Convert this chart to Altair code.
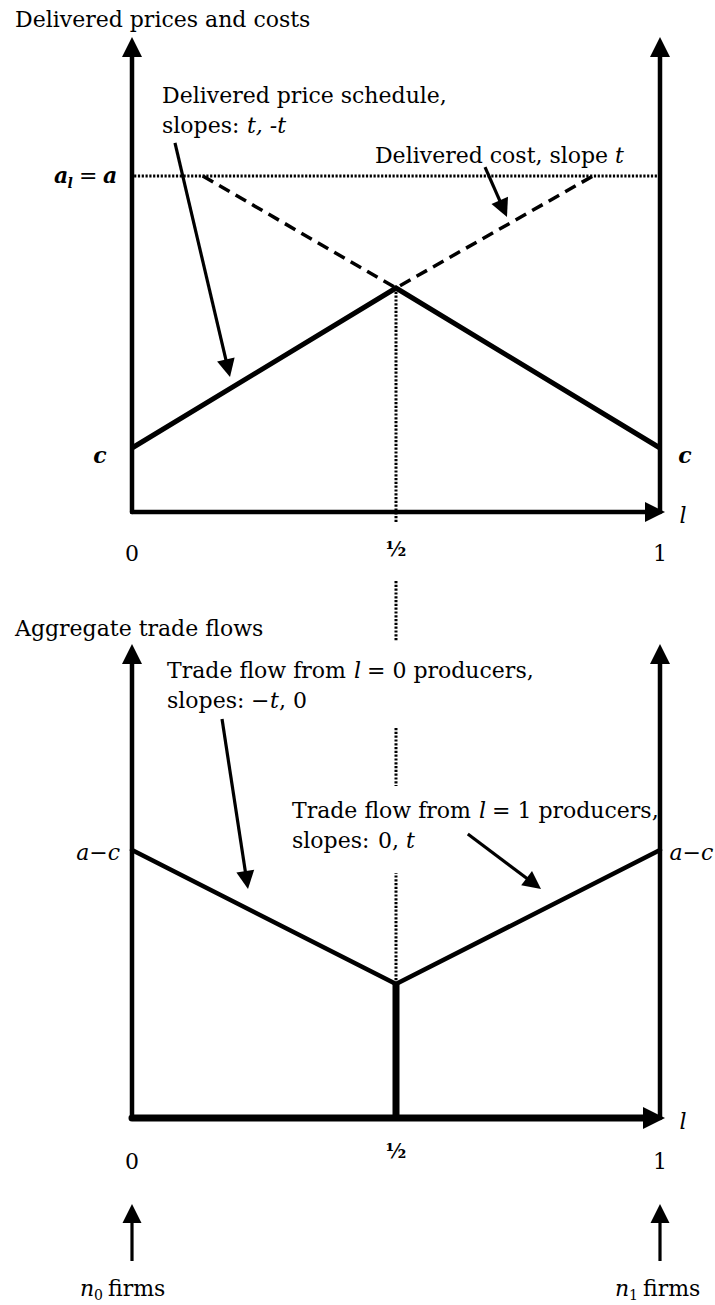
import math
import altair as alt
import pandas as pd

FONT = "DejaVu Serif"
W = 715
TOP_H = 565
BOT_H = 740

# location on the line segment [0, 1]; both panels share this axis
L_DOM = [-0.25, 1.104167]
# value axes of the two panels
TOP_DOM = [-0.828125, 8.0]
BOT_DOM = [-2.80597, 8.23881]
PANELS = {"top": (TOP_DOM, TOP_H), "bottom": (BOT_DOM, BOT_H)}

# ---------------- upper panel: delivered prices and costs ----------------
price_l = [0.0, 0.5, 1.0]          # delivered price schedule
price_v = [1.0, 3.5, 1.0]
cost_l = [0.134, 0.5, 0.873]       # delivered cost (dashed)
cost_v = [5.25, 3.5, 5.25]
a_level = 5.25                     # a_l = a
top_axis_tip = 7.42
l_axis_tip = 1.0095

# ---------------- lower panel: aggregate trade flows ----------------
flow0_l = [0.0, 0.5]               # flow from l = 0 producers
flow0_v = [4.0, 2.0]
flow1_l = [0.5, 1.0]               # flow from l = 1 producers
flow1_v = [2.0, 4.0]
bot_axis_tip = 7.075
firms_arrow_v = [-2.134, -1.284]

HEAD_PATH = "M0,0L-0.5,1L0.5,1Z"   # arrowhead with its tip at the anchor point


def to_px(l, v, panel):
    dom, h = PANELS[panel]
    x = (l - L_DOM[0]) / (L_DOM[1] - L_DOM[0]) * W
    y = (dom[1] - v) / (dom[1] - dom[0]) * h
    return x, y


def from_px(x, y, panel):
    dom, h = PANELS[panel]
    l = L_DOM[0] + x / W * (L_DOM[1] - L_DOM[0])
    v = dom[1] - y / h * (dom[1] - dom[0])
    return l, v


def arrow(l0, v0, l1, v1, panel, kind, head=20):
    """Shaft from (l0, v0) and a filled head whose tip sits at (l1, v1)."""
    x0, y0 = to_px(l0, v0, panel)
    x1, y1 = to_px(l1, v1, panel)
    dx, dy = x1 - x0, y1 - y0
    d = math.hypot(dx, dy)
    xs, ys = x1 - dx / d * head * 0.6, y1 - dy / d * head * 0.6
    ls, vs = from_px(xs, ys, panel)
    ang = math.degrees(math.atan2(dx, -dy)) % 360
    seg = dict(l=l0, v=v0, l2=ls, v2=vs, kind=kind)
    tip = dict(l=l1, v=v1, angle=ang, size=4 * head * head)
    return seg, tip


SEG_STYLE = {
    "axis": dict(strokeWidth=4.5, strokeCap="round"),
    "axis_thick": dict(strokeWidth=7, strokeCap="round"),
    "jump": dict(strokeWidth=7, strokeCap="butt"),
    "dotted": dict(strokeWidth=3, strokeDash=[2.2, 1.6], strokeCap="butt"),
    "shaft": dict(strokeWidth=3.2, strokeCap="butt"),
}

# ---- segments and arrows ----
top_segs, top_heads = [], []
for s, h in [
    arrow(0, 0, 0, top_axis_tip, "top", "axis"),
    arrow(1, 0, 1, top_axis_tip, "top", "axis"),
    arrow(0, 0, l_axis_tip, 0, "top", "axis"),
    arrow(0.0814, 5.766, 0.1856, 2.109, "top", "shaft", head=18),
    arrow(0.6686, 5.39, 0.7102, 4.61, "top", "shaft", head=18),
]:
    top_segs.append(s)
    top_heads.append(h)
top_segs.append(dict(l=0.004, v=a_level, l2=1.0, v2=a_level, kind="dotted"))
top_segs.append(dict(l=0.5, v=price_v[1], l2=0.5, v2=-0.17, kind="dotted"))

bot_segs, bot_heads = [], []
for s, h in [
    arrow(0, 0, 0, bot_axis_tip, "bottom", "axis"),
    arrow(1, 0, 1, bot_axis_tip, "bottom", "axis"),
    arrow(0, 0, l_axis_tip, 0, "bottom", "axis_thick", head=22),
    arrow(0.1705, 5.955, 0.2197, 3.418, "bottom", "shaft", head=18),
    arrow(0.636, 4.239, 0.7746, 3.418, "bottom", "shaft", head=18),
    arrow(0, firms_arrow_v[0], 0, firms_arrow_v[1], "bottom", "shaft", head=19),
    arrow(1, firms_arrow_v[0], 1, firms_arrow_v[1], "bottom", "shaft", head=19),
]:
    bot_segs.append(s)
    bot_heads.append(h)
bot_segs += [
    dict(l=0.5, v=0.0, l2=0.5, v2=flow0_v[1], kind="jump"),
    dict(l=0.5, v=flow0_v[1], l2=0.5, v2=3.657, kind="dotted"),
    dict(l=0.5, v=5.821, l2=0.5, v2=4.955, kind="dotted"),
    dict(l=0.5, v=8.015, l2=0.5, v2=7.119, kind="dotted"),
]

# ---- text: (text, l, v, align, style, weight, size) ----
top_labels = [
    ("Delivered prices and costs", -0.2216, 7.578, "left", "normal", "normal", 22),
    ("Delivered price schedule,", 0.0568, 6.391, "left", "normal", "normal", 22),
    ("slopes:", 0.0568, 5.922, "left", "normal", "normal", 22),
    ("t, -t", 0.2178, 5.922, "left", "italic", "normal", 22),
    ("Delivered cost, slope", 0.4602, 5.453, "left", "normal", "normal", 22),
    ("t", 0.9148, 5.453, "left", "italic", "normal", 22),
    ("a", -0.1477, 5.141, "left", "italic", "bold", 22),
    ("l", -0.1222, 5.0625, "left", "italic", "bold", 14),
    ("=", -0.1004, 5.141, "left", "normal", "normal", 22),
    ("a", -0.0549, 5.141, "left", "italic", "bold", 22),
    ("c", -0.0606, 0.766, "center", "italic", "bold", 22),
    ("c", 1.0473, 0.766, "center", "italic", "bold", 22),
    ("l", 1.0436, -0.172, "center", "italic", "normal", 22),
    ("0", 0.0, -0.766, "center", "normal", "normal", 22),
    ("½", 0.5, -0.6875, "center", "normal", "bold", 20),
    ("1", 1.0, -0.766, "center", "normal", "normal", 22),
]
bot_labels = [
    ("Aggregate trade flows", -0.2216, 7.194, "left", "normal", "normal", 22),
    ("Trade flow from", 0.0663, 6.567, "left", "normal", "normal", 22),
    ("l", 0.4205, 6.567, "left", "italic", "normal", 22),
    ("= 0 producers,", 0.4451, 6.567, "left", "normal", "normal", 22),
    ("slopes:", 0.0663, 6.119, "left", "normal", "normal", 22),
    ("\u2212", 0.2254, 6.119, "left", "normal", "normal", 22),
    ("t", 0.2614, 6.119, "left", "italic", "normal", 22),
    (", 0", 0.2784, 6.119, "left", "normal", "normal", 22),
    ("Trade flow from", 0.3030, 4.478, "left", "normal", "normal", 22),
    ("l", 0.6572, 4.478, "left", "italic", "normal", 22),
    ("= 1 producers,", 0.6818, 4.478, "left", "normal", "normal", 22),
    ("slopes:", 0.3030, 4.030, "left", "normal", "normal", 22),
    ("0,", 0.4659, 4.030, "left", "normal", "normal", 22),
    ("t", 0.5189, 4.030, "left", "italic", "normal", 22),
    ("a\u2212c", -0.0227, 3.851, "right", "italic", "normal", 22),
    ("a\u2212c", 1.018, 3.851, "left", "italic", "normal", 22),
    ("l", 1.0436, -0.164, "center", "italic", "normal", 22),
    ("0", 0.0, -0.761, "center", "normal", "normal", 22),
    ("½", 0.5, -0.597, "center", "normal", "bold", 20),
    ("1", 1.0, -0.761, "center", "normal", "normal", 22),
    ("n", -0.0985, -2.657, "left", "italic", "normal", 22),
    ("0", -0.072, -2.716, "left", "normal", "normal", 14),
    ("firms", -0.0455, -2.657, "left", "normal", "normal", 22),
    ("n", 0.9148, -2.657, "left", "italic", "normal", 22),
    ("1", 0.9413, -2.716, "left", "normal", "normal", 14),
    ("firms", 0.9678, -2.657, "left", "normal", "normal", 22),
]


def panel_chart(panel, segs, heads, lines, labels):
    dom, h = PANELS[panel]
    xs = alt.Scale(domain=L_DOM, nice=False, zero=False)
    ys = alt.Scale(domain=dom, nice=False, zero=False)
    x = alt.X("l:Q", scale=xs, axis=None)
    y = alt.Y("v:Q", scale=ys, axis=None)
    layers = []

    seg_df = pd.DataFrame(segs)
    for kind, style in SEG_STYLE.items():
        sub = seg_df[seg_df["kind"] == kind]
        if sub.empty:
            continue
        layers.append(
            alt.Chart(sub).mark_rule(color="black", **style).encode(
                x=x, y=y, x2="l2:Q", y2="v2:Q"
            )
        )

    for rows, style in lines:
        layers.append(
            alt.Chart(pd.DataFrame(rows)).mark_line(color="black", **style).encode(
                x=x, y=y, detail="series:N", order="i:Q"
            )
        )

    layers.append(
        alt.Chart(pd.DataFrame(heads)).mark_point(
            shape=HEAD_PATH, filled=True, opacity=1, color="black", strokeWidth=0
        ).encode(
            x=x, y=y,
            angle=alt.Angle("angle:Q", scale=None),
            size=alt.Size("size:Q", scale=None),
        )
    )

    lab = pd.DataFrame(labels, columns=["text", "l", "v", "align", "style", "weight", "size"])
    for (al, st, wt, sz), sub in lab.groupby(["align", "style", "weight", "size"]):
        layers.append(
            alt.Chart(sub).mark_text(
                font=FONT, fontSize=int(sz), fontStyle=st, fontWeight=wt,
                align=al, baseline="alphabetic", color="black",
            ).encode(x=x, y=y, text="text:N")
        )

    return alt.layer(*layers).properties(width=W, height=h)


def series(name, ls, vs):
    return [dict(series=name, i=i, l=a, v=b) for i, (a, b) in enumerate(zip(ls, vs))]


top = panel_chart(
    "top", top_segs, top_heads,
    [
        (series("cost", cost_l, cost_v), dict(strokeWidth=3.5, strokeDash=[12, 7])),
        (series("price", price_l, price_v), dict(strokeWidth=5, strokeJoin="miter")),
    ],
    top_labels,
)
bottom = panel_chart(
    "bottom", bot_segs, bot_heads,
    [
        (series("from0", flow0_l, flow0_v) + series("from1", flow1_l, flow1_v),
         dict(strokeWidth=4.5, strokeCap="round")),
    ],
    bot_labels,
)

chart = alt.vconcat(top, bottom, spacing=0).properties(
    padding=0, background="white"
).configure_view(stroke=None)

chart.save("out.html", embed_options={"renderer": "svg", "actions": False})
